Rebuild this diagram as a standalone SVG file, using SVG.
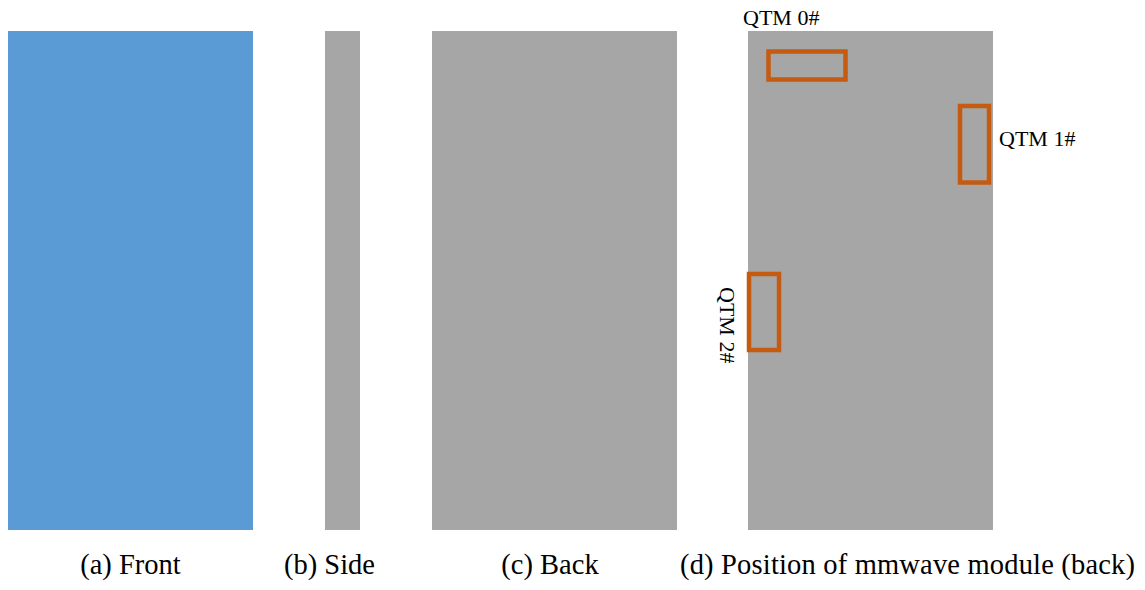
<svg xmlns="http://www.w3.org/2000/svg" width="1145" height="590" viewBox="0 0 1145 590">
<style>
.panel{fill:#a6a6a6}
.qtm{fill:none;stroke:#c55a11;stroke-width:4.5}
.lbl{font-family:"Liberation Serif","Times New Roman",serif;font-size:22px;fill:#000}
.cap{font-family:"Liberation Serif","Times New Roman",serif;font-size:28.5px;fill:#000}
</style>
<rect width="1145" height="590" fill="#fff"/>
<g id="front"><rect x="8" y="31" width="245" height="499" fill="#5b9bd5"/><text class="cap" x="130.5" y="574" text-anchor="middle">(a) Front</text></g>
<g id="side"><rect class="panel" x="325" y="31" width="35" height="499"/><text class="cap" x="329.5" y="574" text-anchor="middle">(b) Side</text></g>
<g id="back"><rect class="panel" x="432" y="31" width="245" height="499"/><text class="cap" x="550" y="574" text-anchor="middle">(c) Back</text></g>
<g id="position"><rect class="panel" x="748" y="31" width="245" height="499"/><text class="cap" x="680" y="574" textLength="455" lengthAdjust="spacing">(d) Position of mmwave module (back)</text></g>
<g id="qtm0"><rect class="qtm" x="768.5" y="51.5" width="77" height="28"/><text class="lbl" x="743" y="25">QTM 0#</text></g>
<g id="qtm1"><rect class="qtm" x="960" y="106" width="29" height="76.5"/><text class="lbl" x="999" y="146">QTM 1#</text></g>
<g id="qtm2"><rect class="qtm" x="749" y="274" width="30" height="76"/><text class="lbl" transform="translate(720,287) rotate(90)">QTM 2#</text></g>
<g id="connectors"/>
</svg>
